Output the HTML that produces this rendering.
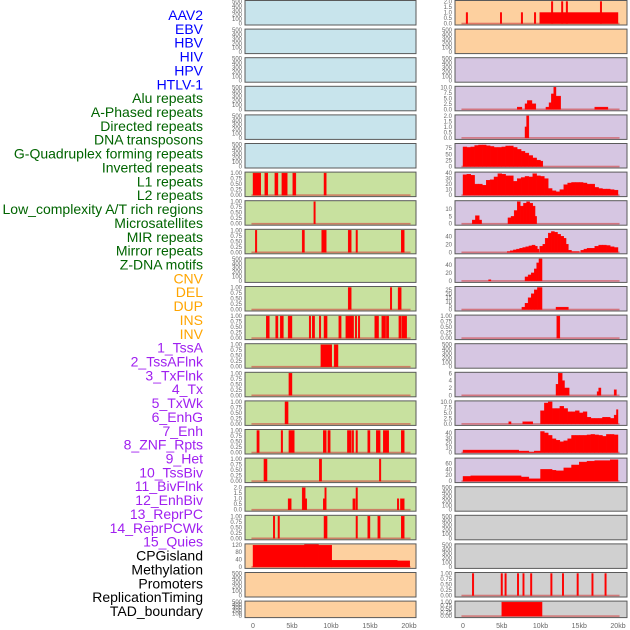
<!DOCTYPE html>
<html><head><meta charset="utf-8">
<style>
body{margin:0;background:#fff;width:630px;height:630px;overflow:hidden;font-family:"Liberation Sans",sans-serif}
svg{display:block}
</style></head>
<body>
<svg id="chart" width="630" height="630" xmlns="http://www.w3.org/2000/svg"></svg>
<script>
const trackLabels=["AAV2","EBV","HBV","HIV","HPV","HTLV-1","Alu repeats","A-Phased repeats","Directed repeats","DNA transposons","G-Quadruplex forming repeats","Inverted repeats","L1 repeats","L2 repeats","Low_complexity A/T rich regions","Microsatellites","MIR repeats","Mirror repeats","Z-DNA motifs","CNV","DEL","DUP","INS","INV","1_TssA","2_TssAFlnk","3_TxFlnk","4_Tx","5_TxWk","6_EnhG","7_Enh","8_ZNF_Rpts","9_Het","10_TssBiv","11_BivFlnk","12_EnhBiv","13_ReprPC","14_ReprPCWk","15_Quies","CPGisland","Methylation","Promoters","ReplicationTiming","TAD_boundary"];
const labelGroups=[6,13,5,15,5];
const groupColors=["#0000ff","#006400","#ffa500","#a020f0","#000000"];
const xTickValues=[0,5,10,15,20];
const xTickLabels=["0","5kb","10kb","15kb","20kb"];
const T500=["0","100","200","300","400","500"];
const T1=["0.00","0.25","0.50","0.75","1.00"];
const T2=["0.0","0.5","1.0","1.5","2.0"];
const leftBg=["#c8e4ec","#c8e4ec","#c8e4ec","#c8e4ec","#c8e4ec","#c8e4ec","#c8e19f","#c8e19f","#c8e19f","#c8e19f","#c8e19f","#c8e19f","#c8e19f","#c8e19f","#c8e19f","#c8e19f","#c8e19f","#c8e19f","#c8e19f","#fdd09f","#fdd09f","#fdd09f"];
const rightBg=["#fdd09f","#fdd09f","#d6c6e2","#d6c6e2","#d6c6e2","#d6c6e2","#d6c6e2","#d6c6e2","#d6c6e2","#d6c6e2","#d6c6e2","#d6c6e2","#d6c6e2","#d6c6e2","#d6c6e2","#d6c6e2","#d6c6e2","#d0d0d0","#d0d0d0","#d0d0d0","#d0d0d0","#d0d0d0"];
const leftYmax=[500,500,500,500,500,500,1,1,1,500,1,1,1,1,1,1,1,2,1,120,500,500];
const rightYmax=[2,500,500,10,2,90,40,15,55,55,28,1,500,6,10,45,75,500,500,500,1,1];
const leftTicks=[T500,T500,T500,T500,T500,T500,T1,T1,T1,T500,T1,T1,T1,T1,T1,T1,T1,T2,T1,["0","40","80","120"],T500,T500];
const rightTicks=[T2,T500,T500,["0.0","2.5","5.0","7.5","10.0"],T2,["0","25","50","75"],["0","10","20","30","40"],["0","5","10"],["0","20","40"],["0","20","40"],["0","5","10","15","20","25"],T1,T500,["0","2","4","6"],["0.0","2.5","5.0","7.5","10.0"],["0","10","20","30","40"],["0","20","40","60"],T500,T500,T500,T1,T1];
const leftSegs=[[],[],[],[],[],[],
[[0,1.0,1],[1.5,1.9,1],[2.8,3.2,1],[3.7,4.4,1],[5.1,5.5,1],[9.1,9.4,1]],
[[7.8,8.0,1]],
[[0.3,0.5,1],[6.3,6.6,1],[8.8,9.4,1],[12.2,12.6,1],[13.2,13.4,1],[19.0,19.4,1]],
[],
[[12.2,12.6,1],[17.6,17.8,1],[18.6,19.0,1]],
[[1.7,2.1,1],[2.9,3.2,1],[3.5,3.9,1],[4.5,5.0,1],[7.2,7.4,1],[7.6,7.9,1],[8.5,8.7,1],[9.1,9.5,1],[11.0,11.3,1],[11.9,12.7,1],[12.7,12.9,1],[13.1,13.3,1],[13.5,13.7,1],[15.6,16.1,1],[16.5,17.0,1],[17.1,17.4,1],[18.7,19.0,1],[19.1,19.7,1]],
[[8.7,10.1,1],[10.4,10.9,1]],
[[4.6,5.0,1]],
[[4.1,4.5,1]],
[[0.5,0.8,1],[3.6,3.8,1],[4.6,5.3,1],[9.0,9.4,1],[9.6,9.9,1],[12.1,12.6,1],[12.7,12.9,1],[13.2,13.4,1],[14.7,15.0,1],[15.8,16.3,1],[16.7,17.4,1],[19.0,19.4,1]],
[[1.4,1.8,1],[8.5,8.8,1],[16.2,16.4,1]],
[[4.5,4.9,1],[6.3,6.7,2],[6.7,6.9,1],[9.0,9.2,1],[9.2,9.4,2],[12.8,13.1,1],[13.2,13.4,2],[18.5,18.7,1],[18.9,19.4,1]],
[[2.6,2.8,1],[3.2,3.4,1],[9.1,9.5,1],[13.2,13.4,1],[14.7,15.0,1],[16.0,16.3,1],[19.0,19.4,1]],
[[0,6.6,118],[6.6,8.4,122],[8.4,10.1,118],[10.1,18.5,36],[18.5,20.1,33]],
[],[]];
const rightSegs=[
[[0.4,0.6,1],[4.8,5.0,1],[7.5,7.7,1],[9.2,9.4,1],[9.9,20,1],[11.4,11.6,2],[12.7,12.9,2],[13.3,13.5,2],[17.7,17.9,2]],
[],[],
[[7.0,7.6,1],[8.0,8.3,2.5],[8.3,8.9,4],[8.9,9.4,2.5],[10.7,11.1,1],[11.1,11.4,3],[11.4,11.7,7],[11.7,12.0,10],[12.0,12.6,6],[17.0,18.7,1]],
[[8.0,8.2,1],[8.2,8.5,2]],
[[0,0.5,80],[0.5,1,78],[1,1.5,80],[1.5,2,86],[2,2.5,88],[2.5,3,88],[3,3.5,85],[3.5,4,82],[4,4.5,78],[4.5,5,78],[5,5.5,80],[5.5,6,84],[6,6.5,84],[6.5,7,78],[7,7.5,70],[7.5,8,62],[8,8.5,55],[8.5,9,45],[9,9.5,35],[9.5,10,26],[10,10.3,22]],
[[0,0.5,37],[0.5,1,38],[1,1.5,36],[1.5,2,20],[2,2.5,20],[2.5,3,18],[3,3.5,27],[3.5,4,28],[4,4.5,33],[4.5,5,39],[5,5.5,38],[5.5,6,35],[6,6.5,35],[6.5,7,25],[7,7.5,30],[7.5,8,32],[8,8.5,34],[8.5,9,33],[9,9.5,39],[9.5,10,35],[10,10.5,34],[10.5,11,30],[11,11.5,12],[11.5,12,8],[12,12.5,6],[12.5,13,10],[13,13.5,19],[13.5,14,22],[14,14.5,23],[14.5,15,23],[15,15.5,23],[15.5,16,22],[16,16.5,20],[16.5,17,20],[17,17.5,14],[17.5,18,12],[18,18.5,11],[18.5,19,11],[19,19.5,10],[19.5,20,9]],
[[1.2,1.6,2.5],[1.6,2.1,5.5],[2.1,2.4,2.5],[5.8,6.2,4],[6.2,6.6,5],[6.6,7.0,9],[7.0,7.4,15],[7.4,7.8,12],[7.8,8.2,14],[8.2,8.6,15],[8.6,9.0,14],[9.0,9.3,12],[9.3,9.5,5]],
[[5.7,6.1,2],[6.1,6.5,4],[6.5,6.9,6],[6.9,7.3,8],[7.3,7.7,10],[7.7,8.1,12],[8.1,8.5,14],[8.5,8.9,16],[8.9,9.3,18],[9.3,9.6,15],[9.6,9.8,8],[9.9,10.3,15],[10.3,10.6,20],[10.6,11,35],[11,11.4,48],[11.4,11.8,52],[11.8,12.2,50],[12.2,12.6,45],[12.6,13,40],[13,13.3,35],[13.3,13.6,20],[13.6,14,5],[14,15,2],[15.2,15.6,5],[15.6,16,8],[16,16.5,10],[16.5,17,10],[17,17.5,15],[17.5,18,18],[18,18.5,18],[18.5,19,17],[19,19.5,14],[19.5,20,12]],
[[3.3,3.6,3],[8.0,8.4,10],[8.4,8.8,15],[8.8,9.2,20],[9.2,9.5,30],[9.5,9.8,45],[9.8,10.2,55]],
[[7.6,8.0,3],[8.0,8.4,8],[8.4,8.8,15],[8.8,9.2,20],[9.2,9.6,25],[9.6,10.2,28],[12.0,13.6,3]],
[[12.1,12.5,1]],
[],
[[12.0,12.3,3],[12.3,12.8,6],[12.8,13.1,4],[13.1,13.7,2],[17.3,17.5,1],[17.5,17.8,2],[19.5,19.8,1.5]],
[[5.9,6.2,1],[7.7,9.0,1],[10,10.5,6],[10.5,11,9.5],[11,11.5,10],[11.5,12,7],[12,12.5,7],[12.5,13,8],[13,13.5,7],[13.5,14,5.5],[14,14.5,5.5],[14.5,15,6],[15,15.5,5],[15.5,16,5.5],[16,16.5,3],[16.5,17,2.5],[17,17.5,2.5],[17.5,18,2.5],[18,18.5,3],[18.5,19,3],[19,19.5,2.5],[19.5,19.8,4],[19.8,20,6.5]],
[[0,7.2,5],[7.2,8.5,3],[8.5,9.2,1],[9.2,10,3],[10,10.5,43],[10.5,11,40],[11,11.5,35],[11.5,12,28],[12,12.5,25],[12.5,13,22],[13,13.5,24],[13.5,14,28],[14,14.5,35],[14.5,15,35],[15,15.5,35],[15.5,16,35],[16,16.5,36],[16.5,17,37],[17,17.5,36],[17.5,18,35],[18,18.5,33],[18.5,19,37],[19,19.5,37],[19.5,20,36]],
[[0,1,16],[1,7.5,18],[7.5,8.5,14],[8.5,10,8],[10,11.5,40],[11.5,12,37],[12,13,35],[13,14,45],[14,15,55],[15,16,65],[16,17,68],[17,19,70],[19,20,73]],
[],[],[],
[[1.2,1.4,1],[4.9,5.1,1],[5.4,5.6,1],[7.0,7.2,1],[7.7,7.9,1],[8.7,8.9,1],[11.3,11.5,1],[12.8,13.0,1],[14.7,14.9,1],[16.6,16.8,1],[18.3,18.5,1]],
[[5.0,10.2,1]]];

const NS="http://www.w3.org/2000/svg";
const svg=document.getElementById('chart');
function mk(tag,attrs,parent){const e=document.createElementNS(NS,tag);for(const k in attrs)e.setAttribute(k,attrs[k]);(parent||svg).appendChild(e);return e;}
const cols=[{x0:245,x1:416,k0:253,k1:409,bg:leftBg,ym:leftYmax,tk:leftTicks,sg:leftSegs,name:'left'},
            {x0:455,x1:627,k0:463,k1:618,bg:rightBg,ym:rightYmax,tk:rightTicks,sg:rightSegs,name:'right'}];
function rowTop(i){return 0.5+i*28.6;}
function rowH(i){return i===21?16.5:24.5;}
let li=0;
labelGroups.forEach((n,g)=>{for(let j=0;j<n;j++){const t=mk('text',{x:203,y:15+li*13.86+5,'text-anchor':'end','font-size':14,fill:groupColors[g]});


t.textContent=trackLabels[li];li++;}});
cols.forEach(c=>{
  const xs=kb=>c.k0+(c.k1-c.k0)*kb/20;
  for(let i=0;i<22;i++){
    const top=rowTop(i),h=rowH(i);
    const g=mk('g',{});
    
    
    mk('rect',{x:c.x0,y:top,width:c.x1-c.x0,height:h,fill:c.bg[i],stroke:'#5a5a5a','stroke-width':1},g);
    const y0=top+h-1.5,y1=top+1;
    const ys=v=>y0-(y0-y1)*v/c.ym[i];
    const tks=c.tk[i];
    tks.forEach((lab,j)=>{const v=parseFloat(lab);const t=mk('text',{x:c.x0-3,y:ys(v)+2,'text-anchor':'end','font-size':6,fill:'#666'},g);
      
      
      t.textContent=lab;});
    const segs=c.sg[i];
    if(segs.length){
      mk('rect',{x:xs(-0.2),y:y0-0.8,width:xs(20.2)-xs(-0.2),height:1.6,fill:'#d04040',opacity:0.6},g);
      segs.forEach(s=>{const r=mk('rect',{x:xs(s[0]),y:ys(s[2]),width:Math.max(1,xs(s[1])-xs(s[0])),height:y0-ys(s[2]),fill:'#ff0000',stroke:'#ff0000','stroke-width':0.4},g);
        
        });
    }
  }
  xTickValues.forEach((v,j)=>{const t=mk('text',{x:xs(v),y:628,'text-anchor':'middle','font-size':7,fill:'#666'});
    
    
    t.textContent=xTickLabels[j];});
});
</script>
</body></html>
